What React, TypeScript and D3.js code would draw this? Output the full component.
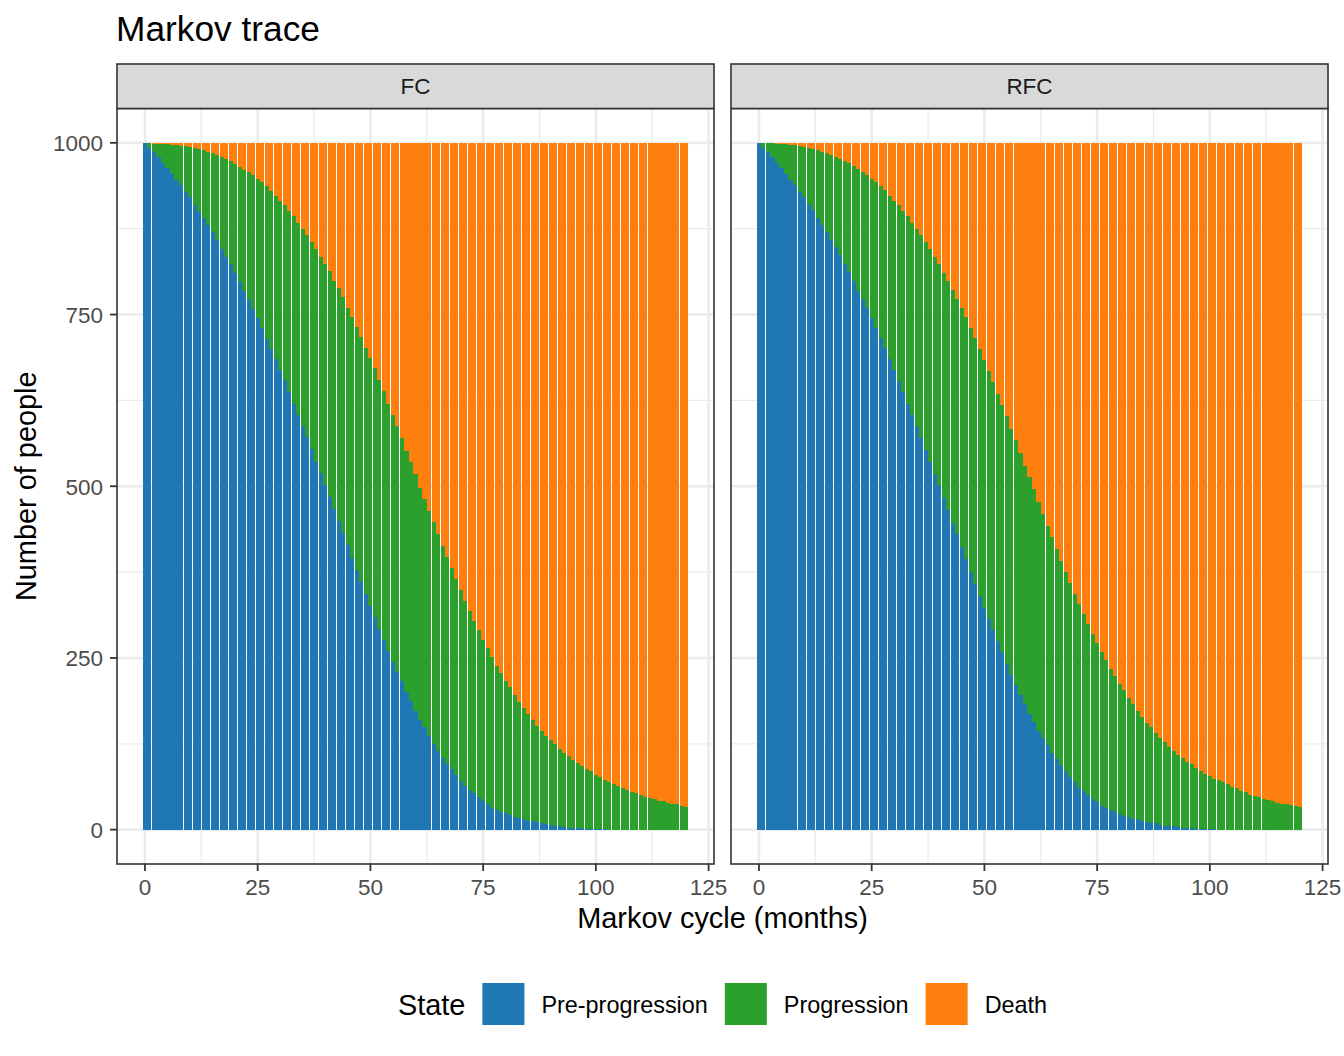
import React from 'react';
import * as d3 from 'd3';

// ---------------- data ----------------
const facets = ['FC', 'RFC'];
const states = ['Pre-progression', 'Progression', 'Death'];
const stateColors = ['#1F77B4', '#2CA02C', '#FF7F0E'];
const cycles = d3.range(0, 121);
const xTicks = [0, 25, 50, 75, 100, 125];
const xMinor = [12.5, 37.5, 62.5, 87.5, 112.5];
const yTicks = [0, 250, 500, 750, 1000];
const yMinor = [125, 375, 625, 875];

const fcPre = [1000,993,986,979,971,963,955,946,938,929, 921,910,899,890,880,870,858,846,834,823, 810,798,785,772,758,745,730,715,700,685, 669,654,637,620,604,588,571,554,536,519, 502,484,467,450,432,414,396,378,360,343, 326,310,292,276,260,244,229,216,201,187, 173,160,149,137,125,115,105,96,88,79, 71,64,58,53,47,41,37,32,29,26, 24,21,19,17,15,13,12,11,9,8, 7,6,5,4,3,3,2,2,1,1, 1,1,1,0,0,0,0,0,0,0, 0,0,0,0,0,0,0,0,0,0, 0];
const fcProg = [0,7,13,20,27,35,42,51,58,66, 73,83,92,99,107,115,125,134,143,150, 159,167,176,185,195,203,213,222,230,238, 246,255,264,273,279,287,295,302,310,315, 322,329,332,338,343,346,351,354,358,359, 361,362,362,362,360,360,358,354,351,348, 345,338,332,327,323,315,308,301,293,286, 278,269,260,251,244,235,227,220,210,202, 193,186,177,169,162,156,148,140,135,129, 124,118,113,108,104,99,95,90,88,84, 79,75,72,70,67,63,61,58,55,53, 51,48,46,44,42,41,39,38,37,35, 33];
const fcDeath = [0,0,1,1,2,2,3,3,4,5, 6,7,9,11,13,15,17,20,23,27, 31,35,39,43,47,52,57,63,70,77, 85,91,99,107,117,125,134,144,154,166, 176,187,201,212,225,240,253,268,282,298, 313,328,346,362,380,396,413,430,448,465, 482,502,519,536,552,570,587,603,619,635, 651,667,682,696,709,724,736,748,761,772, 783,793,804,814,823,831,840,849,856,863, 869,876,882,888,893,898,903,908,911,915, 920,924,927,930,933,937,939,942,945,947, 949,952,954,956,958,959,961,962,963,965, 967];

const rfcPre = [1000,993,986,979,971,963,955,946,939,929, 921,911,902,891,881,870,859,848,837,824, 812,799,785,773,759,745,731,716,701,685, 669,653,637,620,604,588,570,553,536,518, 500,483,465,447,430,412,394,375,358,340, 323,307,290,274,258,241,225,211,196,183, 169,157,144,133,123,111,103,92,85,76, 69,61,56,50,44,40,35,31,28,25, 23,20,18,16,15,13,11,10,9,7, 6,5,5,4,3,3,2,1,1,1, 1,1,0,0,0,0,0,0,0,0, 0,0,0,0,0,0,0,0,0,0, 0];
const rfcProg = [0,7,14,21,28,35,43,51,58,66, 73,82,89,98,106,115,124,132,140,150, 159,168,177,185,194,203,212,221,230,238, 247,256,264,273,279,287,296,303,310,316, 323,328,334,339,343,348,352,356,358,360, 361,361,362,361,361,361,359,356,352,347, 344,339,333,327,319,315,305,299,290,283, 274,267,258,250,241,232,224,216,206,198, 189,183,174,167,158,151,144,139,132,127, 122,116,110,105,102,96,93,89,85,80, 77,73,72,69,66,62,60,57,55,51, 49,47,45,43,41,39,38,37,36,34, 33];
const rfcDeath = [0,0,0,0,1,2,2,3,3,5, 6,7,9,11,13,15,17,20,23,26, 29,33,38,42,47,52,57,63,69,77, 84,91,99,107,117,125,134,144,154,166, 177,189,201,214,227,240,254,269,284,300, 316,332,348,365,381,398,416,433,452,470, 487,504,523,540,558,574,592,609,625,641, 657,672,686,700,715,728,741,753,766,777, 788,797,808,817,827,836,845,851,859,866, 872,879,885,891,895,901,905,910,914,919, 922,926,928,931,934,938,940,943,945,949, 951,953,955,957,959,961,962,963,964,966, 967];

const facetSeries = [
  [fcPre, fcProg, fcDeath],
  [rfcPre, rfcProg, rfcDeath],
];

// ---------------- layout ----------------
const W = 1344;
const H = 1056;
const FONT = "'Liberation Sans', Arial, Helvetica, sans-serif";
const stripTop = 64;
const panelTop = 108.5;
const panelBottom = 864;
const panelXs = [
  [117, 714],
  [731, 1328],
];
const barWidth = 0.9;
const tickFont = 22.5;
const legendFont = 23.4;
const titleFontSize = 35.3;
const axisTitleFont = 28.9;

function measure(text: string, font: string): number {
  const ctx = document.createElement('canvas').getContext('2d');
  if (!ctx) return text.length * 10;
  ctx.font = font;
  return ctx.measureText(text).width;
}

const yScale = d3.scaleLinear().domain([-50, 1050]).range([panelBottom, panelTop]);

function Panel({ fi }: { fi: number }) {
  const [x0, x1] = panelXs[fi];
  const xScale = d3.scaleLinear().domain([-6.2, 126.2]).range([x0, x1]);
  const series = facetSeries[fi];
  const rows = cycles.map((c, i) => {
    const r: any = { cycle: c };
    states.forEach((s, k) => (r[s] = series[k][i]));
    return r;
  });
  const stacked = d3.stack().keys(states)(rows);
  const clipId = `clip-${fi}`;
  return (
    <g>
      <defs>
        <clipPath id={clipId}>
          <rect x={x0} y={panelTop} width={x1 - x0} height={panelBottom - panelTop} />
        </clipPath>
      </defs>
      <rect x={x0} y={panelTop} width={x1 - x0} height={panelBottom - panelTop} fill="#FFFFFF" />
      <g clipPath={`url(#${clipId})`}>
        {xMinor.map((t) => (
          <line key={'xm' + t} x1={xScale(t)} x2={xScale(t)} y1={panelTop} y2={panelBottom} stroke="#EBEBEB" strokeWidth={1.3} />
        ))}
        {yMinor.map((t) => (
          <line key={'ym' + t} x1={x0} x2={x1} y1={yScale(t)} y2={yScale(t)} stroke="#EBEBEB" strokeWidth={1.3} />
        ))}
        {xTicks.map((t) => (
          <line key={'xM' + t} x1={xScale(t)} x2={xScale(t)} y1={panelTop} y2={panelBottom} stroke="#EBEBEB" strokeWidth={2.6} />
        ))}
        {yTicks.map((t) => (
          <line key={'yM' + t} x1={x0} x2={x1} y1={yScale(t)} y2={yScale(t)} stroke="#EBEBEB" strokeWidth={2.6} />
        ))}
        {stacked.map((layer, k) => (
          <g key={states[k]} fill={stateColors[k]} shapeRendering="crispEdges">
            {layer.map((d: any) => {
              const c = d.data.cycle;
              const h = yScale(d[0]) - yScale(d[1]);
              if (h <= 0) return null;
              return (
                <rect
                  key={c}
                  x={xScale(c - barWidth / 2)}
                  width={xScale(c + barWidth / 2) - xScale(c - barWidth / 2)}
                  y={yScale(d[1])}
                  height={h}
                />
              );
            })}
          </g>
        ))}
      </g>
      <rect x={x0} y={panelTop} width={x1 - x0} height={panelBottom - panelTop} fill="none" stroke="#333333" strokeWidth={1.6} />
      {/* strip */}
      <rect x={x0} y={stripTop} width={x1 - x0} height={panelTop - stripTop} fill="#D9D9D9" stroke="#333333" strokeWidth={1.6} />
      <text x={(x0 + x1) / 2} y={(stripTop + panelTop) / 2 + 0.5} textAnchor="middle" dominantBaseline="central" fontSize={tickFont} fill="#1A1A1A" fontFamily={FONT}>
        {facets[fi]}
      </text>
      {/* x axis */}
      {xTicks.map((t) => (
        <g key={'xt' + t}>
          <line x1={xScale(t)} x2={xScale(t)} y1={panelBottom} y2={panelBottom + 7} stroke="#333333" strokeWidth={1.8} />
          <text x={xScale(t)} y={panelBottom + 23.5} textAnchor="middle" dominantBaseline="central" fontSize={tickFont} fill="#4D4D4D" fontFamily={FONT}>
            {t}
          </text>
        </g>
      ))}
      {/* y axis (first panel only) */}
      {fi === 0 &&
        yTicks.map((t) => (
          <g key={'yt' + t}>
            <line x1={x0 - 7} x2={x0} y1={yScale(t)} y2={yScale(t)} stroke="#333333" strokeWidth={1.8} />
            <text x={x0 - 14} y={yScale(t) + 1} textAnchor="end" dominantBaseline="central" fontSize={tickFont} fill="#4D4D4D" fontFamily={FONT}>
              {t}
            </text>
          </g>
        ))}
    </g>
  );
}

function Legend() {
  const titleFont = `${axisTitleFont}px ${FONT}`;
  const labelFont = `${legendFont}px ${FONT}`;
  const key = 42;
  const gapTitle = 17;
  const gapKeyLabel = 17;
  const gapItem = 17;
  const titleW = measure('State', titleFont);
  const labelWs = states.map((s) => measure(s, labelFont));
  const total = titleW + gapTitle + labelWs.reduce((a, w) => a + key + gapKeyLabel + w, 0) + gapItem * (states.length - 1);
  const cx = (panelXs[0][0] + panelXs[1][1]) / 2;
  const cy = 1004;
  let x = cx - total / 2;
  const titleX = x;
  x += titleW + gapTitle;
  const items = states.map((s, i) => {
    const kx = x;
    const lx = kx + key + gapKeyLabel;
    x = lx + labelWs[i] + gapItem;
    return { s, kx, lx, color: stateColors[i] };
  });
  return (
    <g>
      <text x={titleX} y={cy + 1} dominantBaseline="central" fontSize={axisTitleFont} fill="#000000" fontFamily={FONT}>
        State
      </text>
      {items.map((it) => (
        <g key={it.s}>
          <rect x={it.kx} y={cy - key / 2} width={key} height={key} fill={it.color} />
          <text x={it.lx} y={cy + 1} dominantBaseline="central" fontSize={legendFont} fill="#000000" fontFamily={FONT}>
            {it.s}
          </text>
        </g>
      ))}
    </g>
  );
}

export default function App() {
  const midX = (panelXs[0][0] + panelXs[1][1]) / 2;
  const midY = (panelTop + panelBottom) / 2;
  return (
    <svg width={W} height={H} viewBox={`0 0 ${W} ${H}`} style={{ position: 'absolute', left: 0, top: 0, background: '#FFFFFF' }}>
      <rect x={0} y={0} width={W} height={H} fill="#FFFFFF" />
      <text x={116} y={40.5} fontSize={titleFontSize} fill="#000000" fontFamily={FONT}>
        Markov trace
      </text>
      {facets.map((f, i) => (
        <Panel key={f} fi={i} />
      ))}
      <text x={midX} y={928} textAnchor="middle" fontSize={axisTitleFont} fill="#000000" fontFamily={FONT}>
        Markov cycle (months)
      </text>
      <text transform={`translate(36, ${midY}) rotate(-90)`} textAnchor="middle" fontSize={axisTitleFont} fill="#000000" fontFamily={FONT}>
        Number of people
      </text>
      <Legend />
    </svg>
  );
}
